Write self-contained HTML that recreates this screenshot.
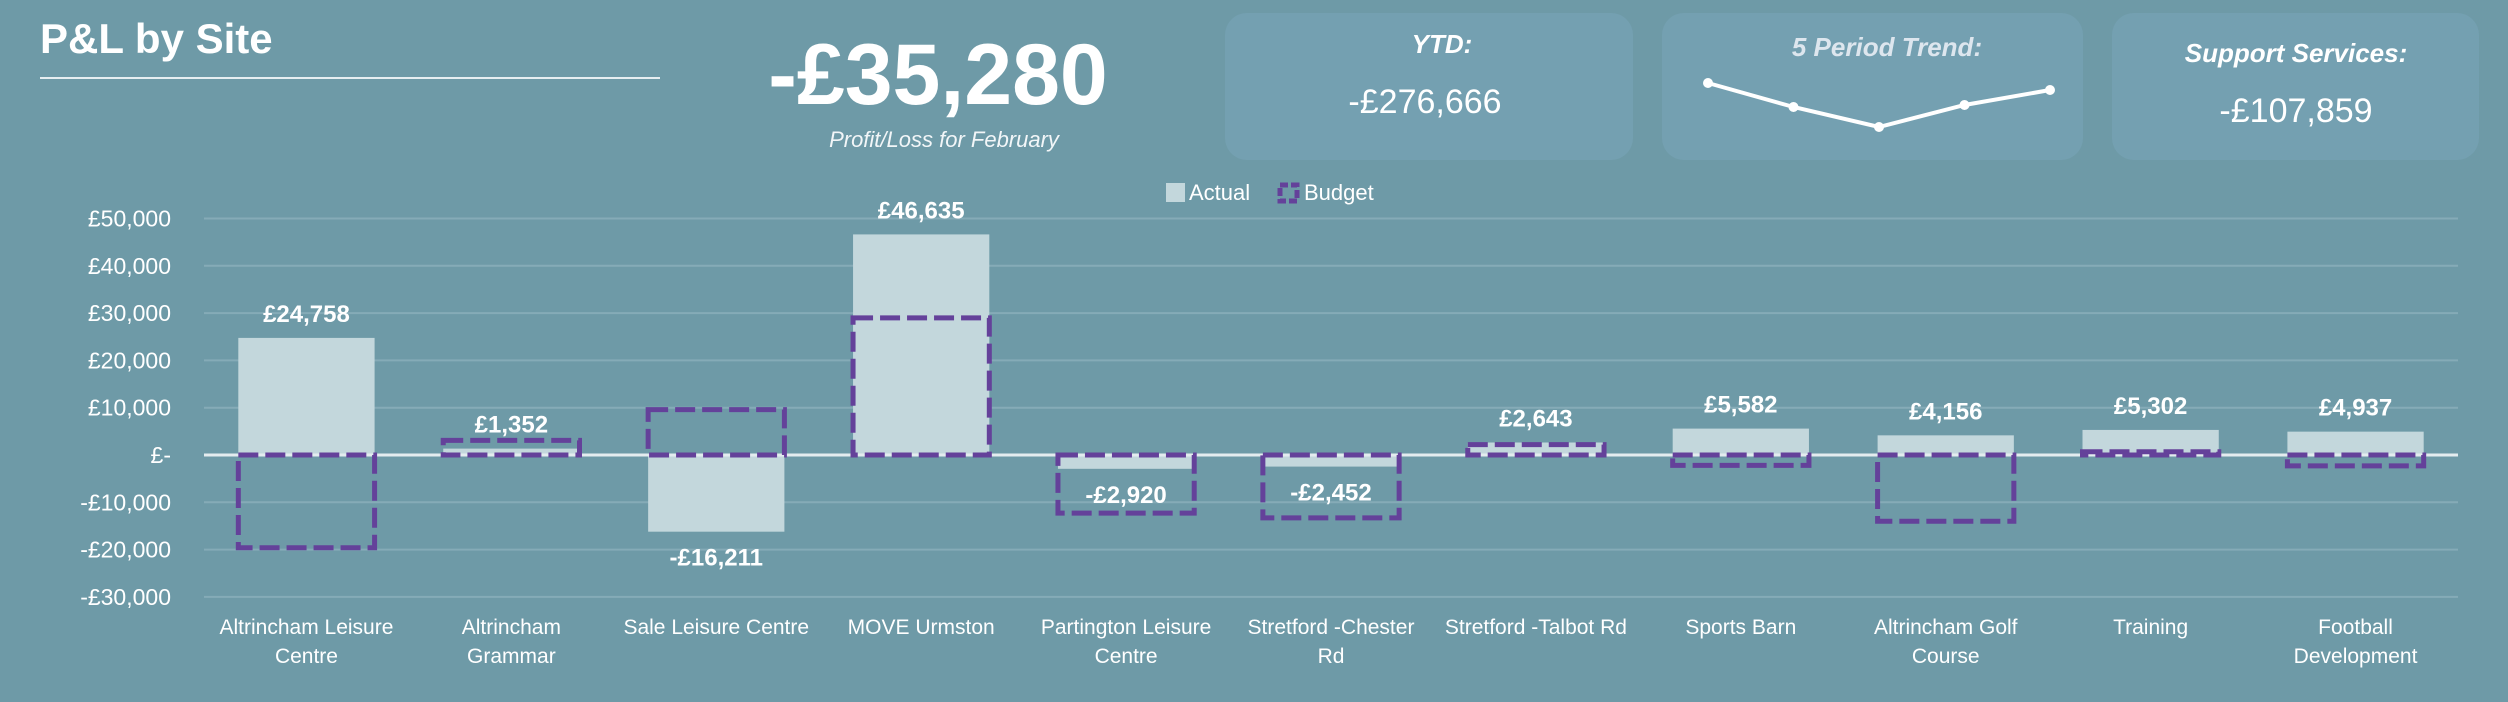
<!DOCTYPE html>
<html><head><meta charset="utf-8"><style>
html,body{margin:0;padding:0;background:#6e9aa7;}
svg{display:block;}
text{font-family:"Liberation Sans",sans-serif;}
</style></head><body>
<svg id="c" width="2508" height="702" viewBox="0 0 2508 702" xmlns="http://www.w3.org/2000/svg">
<rect width="2508" height="702" fill="#6e9aa7"/>
<text x="40" y="53" font-size="42" font-weight="bold" fill="#fff">P&amp;L by Site</text>
<line x1="40" y1="78" x2="660" y2="78" stroke="#e6eef1" stroke-width="2"/>
<text x="938" y="104" font-size="86" font-weight="bold" fill="#fff" text-anchor="middle">-£35,280</text>
<text x="944" y="147" font-size="22" font-style="italic" fill="#f2f6f8" text-anchor="middle">Profit/Loss for February</text>
<g>
<rect x="1225" y="13" width="408" height="147" rx="22" fill="#74a0b1"/>
<text x="1442" y="53" font-size="26" font-weight="bold" font-style="italic" fill="#fff" text-anchor="middle">YTD:</text>
<text x="1425" y="113" font-size="34" fill="#fff" text-anchor="middle">-£276,666</text>
</g>
<g>
<rect x="1662" y="13" width="421" height="147" rx="22" fill="#74a0b1"/>
<text x="1887" y="56" font-size="26" font-weight="bold" font-style="italic" fill="#dde6ee" text-anchor="middle">5 Period Trend:</text>
<g id="trend"></g>
</g>
<g>
<rect x="2112" y="13" width="367" height="147" rx="22" fill="#74a0b1"/>
<text x="2296" y="62" font-size="26" font-weight="bold" font-style="italic" fill="#fff" text-anchor="middle">Support Services:</text>
<text x="2296" y="122" font-size="34" fill="#fff" text-anchor="middle">-£107,859</text>
</g>
<g>
<rect x="1166" y="183" width="19" height="19" fill="#c3d7dc"/>
<text x="1189" y="200" font-size="22" fill="#fff">Actual</text>
<rect x="1280" y="185" width="17" height="16" fill="none" stroke="#64419a" stroke-width="5" stroke-dasharray="8 3"/>
<text x="1304" y="200" font-size="22" fill="#fff">Budget</text>
</g>
<g id="grid"></g><g id="bars"></g><g id="labels"></g>
</svg>
<script>
const categories = [["Altrincham Leisure","Centre"],["Altrincham","Grammar"],["Sale Leisure Centre"],["MOVE Urmston"],["Partington Leisure","Centre"],["Stretford -Chester","Rd"],["Stretford -Talbot  Rd"],["Sports Barn"],["Altrincham Golf","Course"],["Training"],["Football","Development"]];
const actualValues = [24758,1352,-16211,46635,-2920,-2452,2643,5582,4156,5302,4937];
const actualLabels = ["£24,758","£1,352","-£16,211","£46,635","-£2,920","-£2,452","£2,643","£5,582","£4,156","£5,302","£4,937"];
const budgetValues = [-19600,3100,9600,29000,-12300,-13300,2200,-2200,-14000,700,-2300];
const yTicks = [50000,40000,30000,20000,10000,0,-10000,-20000,-30000];
const yTickLabels = ["£50,000","£40,000","£30,000","£20,000","£10,000","£-","-£10,000","-£20,000","-£30,000"];
const trendValues = [83,107,127,105,90];

const NS="http://www.w3.org/2000/svg";
const X0=204,X1=2458,Y0=455,PX=47.3/10000;
const band=(X1-X0)/categories.length;
const yS=v=>Y0-v*PX;
const xC=i=>X0+band*(i+0.5);
function mk(tag,attrs,parent){const e=document.createElementNS(NS,tag);for(const k in attrs)e.setAttribute(k,attrs[k]);parent.appendChild(e);return e;}
const grid=document.getElementById('grid'),bars=document.getElementById('bars'),labels=document.getElementById('labels');


yTicks.forEach((t,i)=>{
  if(t!==0){const l=mk('line',{x1:X0,x2:X1,y1:yS(t),y2:yS(t),stroke:'#85abb7','stroke-width':2},grid);
  
  }
  const tx=mk('text',{x:171,y:yS(t)+8,'font-size':23,fill:'#fff','text-anchor':'end'},grid);
  tx.textContent=yTickLabels[i];
  
  
});
const bw=band*0.665;
actualValues.forEach((v,i)=>{
  const y=Math.min(yS(v),Y0),h=Math.abs(yS(v)-Y0);
  const r=mk('rect',{x:xC(i)-bw/2,y:y,width:bw,height:h,fill:'#c3d7dc'},bars);
  
  
});
const zl=mk('line',{x1:X0,x2:X1,y1:Y0,y2:Y0,stroke:'#e4ecef','stroke-width':3},bars);


budgetValues.forEach((v,i)=>{
  const y=Math.min(yS(v),Y0),h=Math.abs(yS(v)-Y0);
  const r=mk('rect',{x:xC(i)-bw/2,y:y,width:bw,height:h,fill:'none',stroke:'#64419a','stroke-width':5,'stroke-dasharray':'20 7'},bars);
  
  
});
actualValues.forEach((v,i)=>{
  const y=v>=0?yS(v)-16:yS(v)+34;
  const t=mk('text',{x:xC(i),y:y,'font-size':24,'font-weight':'bold',fill:'#fff','text-anchor':'middle'},labels);
  t.textContent=actualLabels[i];
  
  
});
categories.forEach((c,i)=>{
  c.forEach((ln,j)=>{
    const t=mk('text',{x:xC(i),y:634+j*29,'font-size':21,fill:'#fff','text-anchor':'middle'},labels);
    t.textContent=ln;
    
    
  });
});
const tr=document.getElementById('trend');
const tx0=1708,tx1=2050;
const tX=i=>tx0+(tx1-tx0)*i/(trendValues.length-1);
const pts=trendValues.map((v,i)=>tX(i)+','+v).join(' ');
const pl=mk('polyline',{points:pts,fill:'none',stroke:'#fff','stroke-width':4},tr);


trendValues.forEach((v,i)=>{
  const c=mk('circle',{cx:tX(i),cy:v,r:5,fill:'#fff'},tr);
  
  
});
</script>
</body></html>
